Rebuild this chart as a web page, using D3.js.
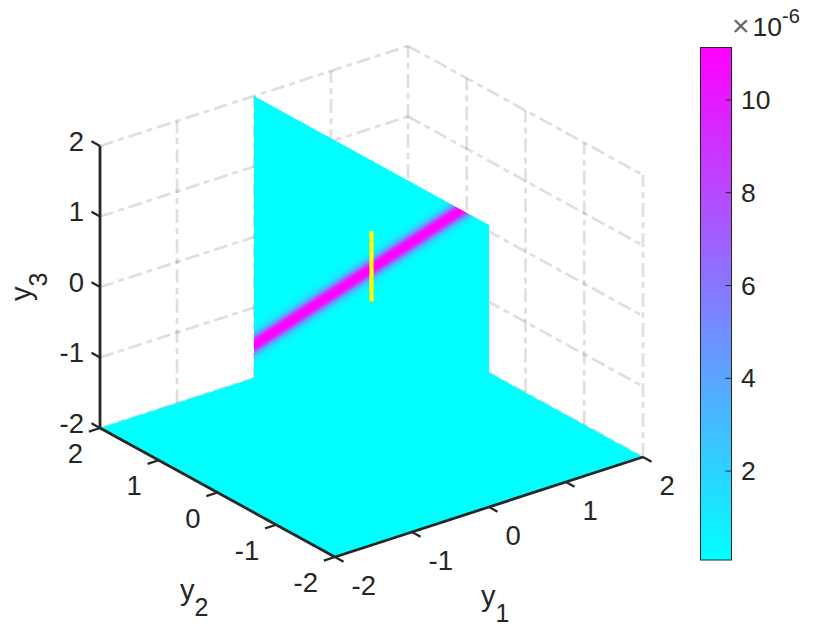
<!DOCTYPE html>
<html>
<head>
<meta charset="utf-8">
<script src="https://cdn.jsdelivr.net/npm/d3@7"></script>
<style>
html,body{margin:0;padding:0;background:#fff;}
svg{display:block;}
text{font-family:"Liberation Sans",Arial,sans-serif;fill:#262626;}
</style>
</head>
<body>
<svg id="chart" width="840" height="630"></svg>
<script>
// ---- data ----
const y1Ticks = [-2,-1,0,1,2];
const y2Ticks = [-2,-1,0,1,2];
const y3Ticks = [-2,-1,0,1,2];
const colorbarTicks = [2,4,6,8,10];
const colorDomain = [0.084,11.13];
const sliceY1 = 0;
const ridgeOffset = 0.47;            // ridge lies along y2 + y3 = 0.47
const profileDistance = [0,0.04,0.065,0.09,0.12,0.15,0.18,0.22,0.27,0.34];
const profileValue = [11.13,11.0,10.0,7.8,5.2,3.2,1.9,0.8,0.25,0.084];
const markerY3 = [0,1];             // yellow segment at y1=0, y2=0

// ---- scales: each data axis contributes a screen displacement ----
const x1 = d3.scaleLinear().domain([-2,2]).range([-154,154]);
const x2 = d3.scaleLinear().domain([-2,2]).range([117.5,-117.5]);
const v1 = d3.scaleLinear().domain([-2,2]).range([50,-50]);
const v2 = d3.scaleLinear().domain([-2,2]).range([64.5,-64.5]);
const v3 = d3.scaleLinear().domain([-2,2]).range([0,-282]);
const origin = [371.5,442.5];
const project = (a,b,c) => [origin[0]+x1(a)+x2(b), origin[1]+v1(a)+v2(b)+v3(c)];
const cool = d3.scaleLinear().domain(colorDomain).range(["#00ffff","#ff00ff"]).interpolate(d3.interpolateRgb);
const line = d3.line();
const ink = "#262626";

const svg = d3.select("#chart");
const defs = svg.append("defs");

// ---- walls' grid lines ----
const gridG = svg.append("g").attr("fill","none").attr("stroke",ink).attr("stroke-opacity",0.15)
  .attr("stroke-width",2.7).attr("stroke-dasharray","14 5 6 5");
const gridSegs = [];
y3Ticks.forEach(z => {
  gridSegs.push([project(-2,2,z),project(2,2,z)]);
  gridSegs.push([project(2,2,z),project(2,-2,z)]);
});
y1Ticks.filter(a => a>-2).forEach(a => gridSegs.push([project(a,2,-2),project(a,2,2)]));
y2Ticks.filter(b => b<2).forEach(b => gridSegs.push([project(2,b,-2),project(2,b,2)]));
gridG.selectAll("path").data(gridSegs).join("path").attr("d",line);

// ---- floor ----
const floorPoly = [project(-2,-2,-2),project(2,-2,-2),project(2,2,-2),project(-2,2,-2)];
svg.append("path").attr("d",line(floorPoly)+"Z").attr("fill",cool(colorDomain[0]));

// ---- vertical slice with ridge ----
// iso-value lines (y2+y3 constant) are parallel on screen: a linear gradient across them
const isoA = project(sliceY1,2,-2), isoB = project(sliceY1,1,-1);
const dir = [isoB[0]-isoA[0], isoB[1]-isoA[1]];
const len = Math.hypot(dir[0],dir[1]);
const nrm = [-dir[1]/len, dir[0]/len];
const c0 = project(sliceY1,0,ridgeOffset);
const up = project(sliceY1,0,ridgeOffset+1);
const perUnit = (up[0]-c0[0])*nrm[0]+(up[1]-c0[1])*nrm[1];
const span = profileDistance[profileDistance.length-1];
const grad = defs.append("linearGradient").attr("id","ridge").attr("gradientUnits","userSpaceOnUse")
  .attr("x1",c0[0]-nrm[0]*perUnit*span).attr("y1",c0[1]-nrm[1]*perUnit*span)
  .attr("x2",c0[0]+nrm[0]*perUnit*span).attr("y2",c0[1]+nrm[1]*perUnit*span);
const stops = [];
profileDistance.forEach((d,i)=>stops.push({d:-d,v:profileValue[i]}));
profileDistance.forEach((d,i)=>{ if(i>0) stops.push({d:d,v:profileValue[i]}); });
stops.sort((p,q)=>p.d-q.d);
const offs = d3.scaleLinear().domain([-span,span]).range([0,1]);
grad.selectAll("stop").data(stops).join("stop")
  .attr("offset",s=>offs(s.d)).attr("stop-color",s=>cool(s.v));
const slicePoly = [project(sliceY1,2,-2),project(sliceY1,-2,-2),project(sliceY1,-2,2),project(sliceY1,2,2)];
svg.append("path").attr("d",line(slicePoly)+"Z").attr("fill","url(#ridge)");

// ---- yellow segment ----
svg.append("path").attr("d",line(markerY3.map(z=>project(0,0,z))))
  .attr("stroke","#ffff00").attr("stroke-width",4.2).attr("fill","none");

// ---- axes ----
const axisG = svg.append("g").attr("fill","none").attr("stroke",ink).attr("stroke-width",2.8);
axisG.append("path").attr("d",line([project(-2,2,-2),project(-2,2,2)]));
axisG.append("path").attr("d",line([project(-2,2,-2),project(-2,-2,-2)]));
axisG.append("path").attr("d",line([project(-2,-2,-2),project(2,-2,-2)]));
const tickLen = 0.145;
const tickG = svg.append("g").attr("fill","none").attr("stroke",ink).attr("stroke-width",2.2);
y3Ticks.forEach(z => tickG.append("path").attr("d",line([project(-2,2,z),[project(-2,2,z)[0]+x2(2)*tickLen/2*1,project(-2,2,z)[1]+v2(2)*tickLen/2]])));
y2Ticks.forEach(b => { const p=project(-2,b,-2); tickG.append("path").attr("d",line([p,[p[0]+x1(-2)*tickLen/2,p[1]+v1(-2)*tickLen/2]])); });
y1Ticks.forEach(a => { const p=project(a,-2,-2); tickG.append("path").attr("d",line([p,[p[0]+x2(-2)*tickLen/2,p[1]+v2(-2)*tickLen/2]])); });

// ---- tick labels ----
const fs = 27.5;
const labelG = svg.append("g").attr("font-size",fs);
y3Ticks.forEach(z => { const p=project(-2,2,z);
  labelG.append("text").attr("x",p[0]-16).attr("y",p[1]+4.5).attr("text-anchor","end").text(z); });
y2Ticks.forEach(b => { const p=project(-2,b,-2);
  labelG.append("text").attr("x",p[0]-17).attr("y",p[1]+35).attr("text-anchor","end").text(b); });
y1Ticks.forEach(a => { const p=project(a,-2,-2);
  labelG.append("text").attr("x",p[0]+16.5).attr("y",p[1]+38).attr("text-anchor","start").text(a); });

// ---- axis titles ----
function title(x,y,base,sub,rot){
  const t = svg.append("text").attr("font-size",29).attr("transform",`translate(${x},${y}) rotate(${rot})`);
  t.append("tspan").text(base);
  t.append("tspan").attr("font-size",25).attr("dy",15.5).text(sub);
}
title(481,606,"y","1",0);
title(180,600,"y","2",0);
title(31,301,"y","3",-90);

// ---- colour bar ----
const cbX = [700.5,731.5];
const cbY = d3.scaleLinear().domain(colorDomain).range([560,47.5]);
const cg = defs.append("linearGradient").attr("id","cb").attr("x1",0).attr("x2",0).attr("y1",1).attr("y2",0);
cg.selectAll("stop").data(colorDomain).join("stop")
  .attr("offset",(d,i)=>i).attr("stop-color",d=>cool(d));
svg.append("rect").attr("x",cbX[0]).attr("y",cbY.range()[1]).attr("width",cbX[1]-cbX[0])
  .attr("height",cbY.range()[0]-cbY.range()[1]).attr("fill","url(#cb)").attr("stroke",ink).attr("stroke-width",1);
const cbAxis = svg.append("g").selectAll("g").data(colorbarTicks).join("g")
  .attr("transform",d=>`translate(0,${cbY(d)})`);
cbAxis.append("line").attr("x1",cbX[1]-6).attr("x2",cbX[1]).attr("stroke",ink).attr("stroke-width",1);
cbAxis.append("text").attr("x",741).attr("y",9).attr("font-size",26.5).text(d=>d);

const expo = svg.append("text").attr("x",732).attr("y",36).attr("font-size",26.5);
expo.append("tspan").attr("font-size",30).attr("font-weight",300).attr("fill","#666").text("×");
expo.append("tspan").attr("dx",3).text("10");
expo.append("tspan").attr("font-size",20).attr("dy",-13).text("-6");
</script>
</body>
</html>
